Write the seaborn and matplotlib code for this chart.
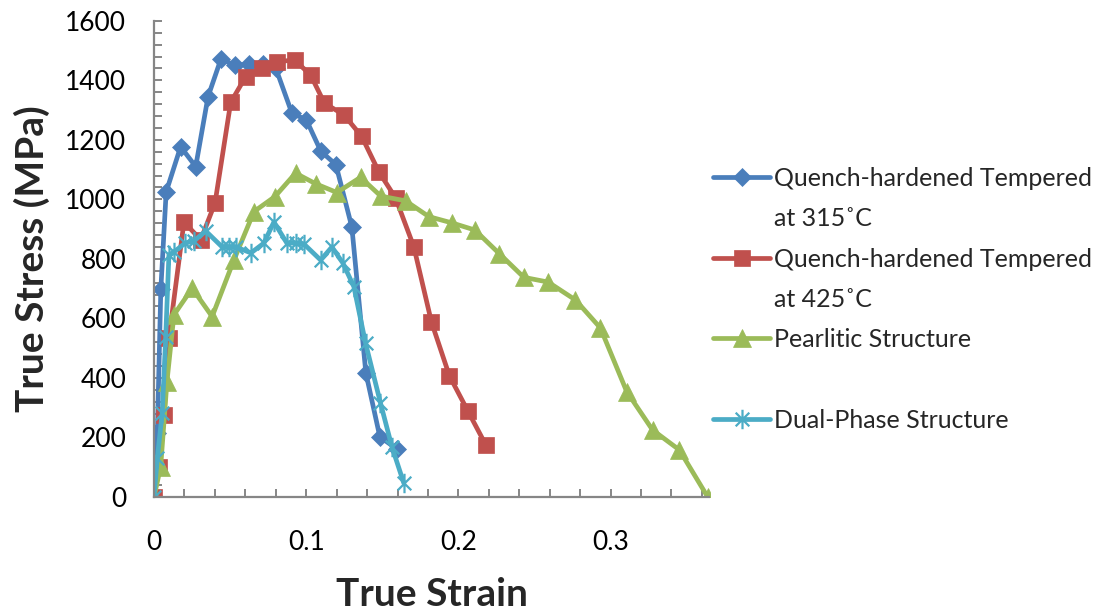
import matplotlib
matplotlib.use("Agg")
import matplotlib.pyplot as plt
from matplotlib.path import Path
from matplotlib.lines import Line2D
from matplotlib.ticker import MultipleLocator, FuncFormatter
import seaborn as sns
import pandas as pd

# True strain / true stress (MPa) for each heat-treatment condition
qt315_strain = [0.0, 0.0022, 0.0045, 0.0080, 0.0175, 0.0274, 0.0355, 0.0440, 0.0532,
                0.0624, 0.0716, 0.0800, 0.0906, 0.1001, 0.1097, 0.1195, 0.1300,
                0.1392, 0.1484, 0.1596]
qt315_stress = [0, 216, 700, 1025, 1177, 1110, 1345, 1472, 1450, 1455, 1455, 1441,
                1290, 1267, 1161, 1117, 907, 417, 202, 161]

qt425_strain = [0.0, 0.0033, 0.0066, 0.0098, 0.0197, 0.0307, 0.0401, 0.0504, 0.0602,
                0.0709, 0.0808, 0.0924, 0.1029, 0.1120, 0.1248, 0.1364, 0.1477,
                0.1587, 0.1707, 0.1823, 0.1941, 0.2062, 0.2180]
qt425_stress = [0, 101, 276, 534, 924, 864, 988, 1326, 1412, 1442, 1463, 1468, 1418,
                1323, 1284, 1212, 1093, 1005, 841, 588, 407, 289, 175]

pearlite_strain = [0.0, 0.0044, 0.0085, 0.0131, 0.0251, 0.0382, 0.0525, 0.0657, 0.0794,
                   0.0930, 0.1064, 0.1202, 0.1357, 0.1490, 0.1653, 0.1806, 0.1957,
                   0.2108, 0.2270, 0.2430, 0.2590, 0.2769, 0.2933, 0.3106, 0.3276,
                   0.3452, 0.3638]
pearlite_stress = [0, 102, 387, 612, 701, 606, 796, 959, 1009, 1088, 1052, 1023, 1074,
                   1011, 995, 942, 921, 897, 817, 738, 722, 662, 568, 354, 225, 158, 0]

dual_strain = [0.0, 0.0022, 0.0054, 0.0077, 0.0098, 0.0131, 0.0204, 0.0263, 0.0339,
               0.0446, 0.0492, 0.0538, 0.0637, 0.0722, 0.0788, 0.0873, 0.0932,
               0.0985, 0.1095, 0.1169, 0.1241, 0.1313, 0.1390, 0.1488, 0.1563, 0.1641]
dual_stress = [0, 131, 282, 539, 813, 823, 853, 860, 894, 841, 841, 840, 820, 853, 924,
               853, 853, 850, 796, 840, 786, 707, 517, 316, 169, 47]

series_names = ["Quench-hardened Tempered\nat 315˚C",
                "Quench-hardened Tempered\nat 425˚C",
                "Pearlitic Structure",
                "Dual-Phase Structure"]
series_colors = ["#4A7EBB", "#C0504D", "#9BBB59", "#4BACC6"]

x_ticks = [0, 0.1, 0.2, 0.3]
y_ticks = [0, 200, 400, 600, 800, 1000, 1200, 1400, 1600]

sns.set_theme(style="white")
plt.rcParams["font.family"] = ["Lato", "DejaVu Sans"]

# asterisk marker: vertical bar plus a diagonal cross
asterisk = Path([(0, -1), (0, 1), (-0.7, -0.7), (0.7, 0.7), (-0.7, 0.7), (0.7, -0.7)],
                [Path.MOVETO, Path.LINETO, Path.MOVETO, Path.LINETO, Path.MOVETO, Path.LINETO])

styles = [
    dict(marker="D", markersize=9, markeredgewidth=0.5),
    dict(marker="s", markersize=12, markeredgewidth=0.5),
    dict(marker="^", markersize=13, markeredgewidth=0.5),
    dict(marker=asterisk, markersize=14, markeredgewidth=1.6, markerfacecolor="none"),
]

fig = plt.figure(figsize=(11, 6.12), dpi=100)
ax = fig.add_axes([0.14, 0.188, 0.505, 0.778])

data = [(qt315_strain, qt315_stress), (qt425_strain, qt425_stress),
        (pearlite_strain, pearlite_stress), (dual_strain, dual_stress)]

for (xs, ys), name, color, st in zip(data, series_names, series_colors, styles):
    df = pd.DataFrame({"strain": xs, "stress": ys})
    sns.lineplot(data=df, x="strain", y="stress", sort=False, estimator=None,
                 color=color, linewidth=3.4, markeredgecolor=color,
                 label=name, ax=ax, legend=False, **st)

ax.set_xlim(0, 0.365)
ax.set_ylim(0, 1600)
ax.set_xticks(x_ticks)
ax.set_yticks(y_ticks)
ax.xaxis.set_minor_locator(MultipleLocator(0.02))
ax.yaxis.set_minor_locator(MultipleLocator(40))
ax.xaxis.set_major_formatter(FuncFormatter(lambda v, p: f"{v:g}"))

for side in ["top", "right"]:
    ax.spines[side].set_visible(False)
for side in ["left", "bottom"]:
    ax.spines[side].set_color("#868686")
    ax.spines[side].set_linewidth(1.6)

ax.tick_params(axis="both", which="both", direction="in", color="#868686",
               width=1.4, length=6, labelsize=19, labelcolor="black",
               bottom=True, left=True, top=False, right=False)
ax.tick_params(axis="x", which="major", pad=24)
ax.tick_params(axis="y", which="major", pad=20)

ax.set_xlabel("True Strain", fontsize=28, fontweight="bold", labelpad=16)
ax.set_ylabel("True Stress (MPa)", fontsize=28, fontweight="bold", labelpad=11)

# legend: continuation lines of wrapped names get their own handle-less rows
lines = ax.get_lines()
blank = Line2D([], [], linestyle="none", marker="none")
handles, labels = [], []
for ln, name in zip(lines, series_names):
    parts = name.split("\n")
    handles.append(ln)
    labels.append(parts[0])
    for extra in parts[1:]:
        handles.append(blank)
        labels.append(extra)
    if name == series_names[2]:
        handles.append(blank)
        labels.append(" ")

leg = ax.legend(handles, labels, loc="upper left", bbox_to_anchor=(0.648, 0.727),
                bbox_transform=fig.transFigure, frameon=False, fontsize=18,
                handlelength=2.3, handletextpad=0.15, labelspacing=0.69,
                borderpad=0, borderaxespad=0)

fig.savefig("out.png", dpi=100)
